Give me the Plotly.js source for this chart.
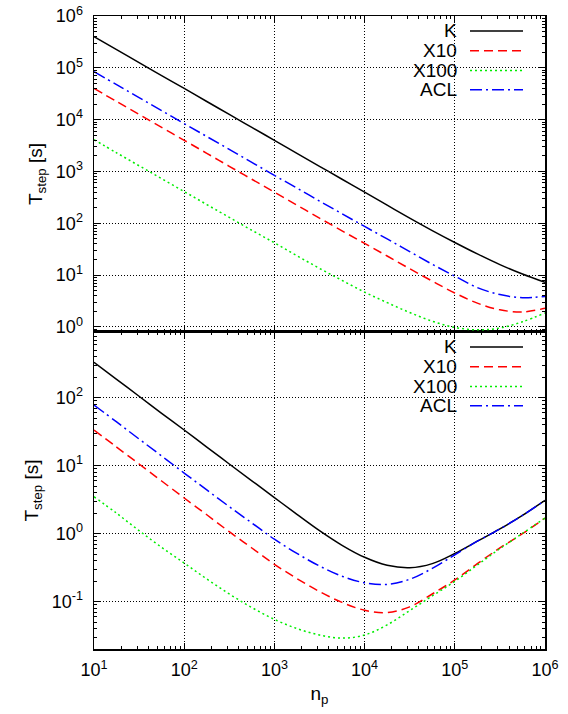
<!DOCTYPE html>
<html><head><meta charset="utf-8">
<script src="https://cdn.plot.ly/plotly-3.0.1.min.js"></script>
<style>html,body{margin:0;padding:0;background:#fff}</style>
</head><body><div id="chart" style="width:568px;height:714px"></div>
<script>
// ---- data ----
const np = [10, 17.8, 31.6, 56.2, 100, 178, 316, 562, 1000, 1778, 3162, 5623, 10000, 17783, 31623, 56234,
            100000, 177828, 316228, 562341, 1000000];
const seriesNames = ["K", "X10", "X100", "ACL"];

const topK    = [400000, 224000, 126000, 70800, 40000, 22400, 12600, 7080, 4000, 2240, 1260, 708, 400, 224, 126, 72.4, 42.7, 25.7, 16.0, 10.5, 7.24];
const topX10  = [40000, 22400, 12600, 7080, 4000, 2240, 1260, 708, 400, 224, 126, 71.6, 41, 23.4, 13.3, 7.67, 4.52, 2.88, 2.14, 1.95, 2.29];
const topX100 = [4100, 2290, 1290, 725, 410, 230, 130, 73.5, 42, 23.7, 13.5, 7.9, 4.7, 2.95, 1.9, 1.29, 0.98, 0.88, 0.955, 1.26, 1.86];
const topACL  = [84000, 47300, 26600, 15000, 8400, 4730, 2660, 1500, 841, 479, 269, 153, 87, 50, 28.5, 16.2, 9.55, 5.75, 4.22, 3.67, 3.89];

const botK    = [331, 186, 105, 59, 33.5, 18.8, 10.6, 6.0, 3.4, 1.93, 1.11, 0.676, 0.45, 0.343, 0.316, 0.363, 0.513, 0.776, 1.175, 1.86, 3.09];
const botX10  = [33.5, 18.8, 10.6, 5.96, 3.35, 1.9, 1.07, 0.617, 0.355, 0.219, 0.141, 0.0977, 0.075, 0.0692, 0.0841, 0.130, 0.209, 0.363, 0.617, 1.0, 1.7];
const botX100 = [3.5, 2.0, 1.11, 0.63, 0.37, 0.216, 0.130, 0.0822, 0.055, 0.0403, 0.0324, 0.0292, 0.0324, 0.0457, 0.0741, 0.1216, 0.1995, 0.347, 0.603, 1.01, 1.7];
const botACL  = [78, 44, 24.7, 13.9, 7.8, 4.4, 2.5, 1.44, 0.83, 0.513, 0.335, 0.237, 0.19, 0.18, 0.214, 0.309, 0.49, 0.776, 1.175, 1.86, 3.09];

const xTickExp    = [1, 2, 3, 4, 5, 6];
const yTopTickExp = [0, 1, 2, 3, 4, 5, 6];
const yBotTickExp = [-1, 0, 1, 2];
const xTitle = "n<sub>p</sub>";
const yTitle = "T<sub>step</sub> [s]";

// ---- styles ----
const FONT = "Liberation Sans, Arial, Helvetica, sans-serif";
const styles = {
  K:    {color: "#000000", dash: "solid"},
  X10:  {color: "#ff0000", dash: "9px,5px"},
  X100: {color: "#00ee00", dash: "2px,3px"},
  ACL:  {color: "#0000ff", dash: "12px,4px,2px,4px"}
};
const LW = 1.5;

const topData = {K: topK, X10: topX10, X100: topX100, ACL: topACL};
const botData = {K: botK, X10: botX10, X100: botX100, ACL: botACL};

const traces = [];
seriesNames.forEach(n => {
  traces.push({x: np, y: topData[n], xaxis: "x2", yaxis: "y2", mode: "lines", name: n, showlegend: false,
    line: {color: styles[n].color, dash: styles[n].dash, width: LW, shape: "spline", smoothing: 1}});
  traces.push({x: np, y: botData[n], xaxis: "x", yaxis: "y", mode: "lines", name: n, showlegend: false,
    line: {color: styles[n].color, dash: styles[n].dash, width: LW, shape: "spline", smoothing: 1}});
});

function ticks(exps) {
  return {vals: exps.map(e => Math.pow(10, e)), text: exps.map(e => "10<sup>" + e + "</sup>")};
}
function minorVals(e0, e1) {
  const v = [];
  for (let e = e0; e <= e1; e++) for (let m = 2; m <= 9; m++) v.push(m * Math.pow(10, e));
  return v;
}
function axis(extra) {
  return Object.assign({
    type: "log", showline: true, linecolor: "black", linewidth: 1.5, mirror: "allticks",
    ticks: "inside", ticklen: 6, tickwidth: 1, tickcolor: "black",
    showgrid: true, gridcolor: "#000000", gridwidth: 1, griddash: "1px,2px",
    zeroline: false, tickmode: "array", tickfont: {family: FONT, size: 18, color: "black"}
  }, extra);
}
const xt = ticks(xTickExp), yt2 = ticks(yTopTickExp), yt1 = ticks(yBotTickExp);
const minorCfg = (e0, e1) => ({ticks: "inside", ticklen: 3, tickwidth: 1, tickcolor: "black", tickmode: "array", tickvals: minorVals(e0, e1), showgrid: false});

const split = 0.5008;
const layout = {
  width: 568, height: 714,
  margin: {l: 94, r: 23, t: 16, b: 65},
  paper_bgcolor: "white", plot_bgcolor: "white",
  font: {family: FONT, color: "black"},
  showlegend: false,
  xaxis: axis({anchor: "y", range: [1, 6], tickvals: xt.vals, ticktext: xt.text, minor: minorCfg(1, 5),
    ticklabelstandoff: 4,
    title: {text: xTitle, font: {family: FONT, size: 19}, standoff: 7}}),
  xaxis2: axis({anchor: "y2", range: [1, 6], matches: "x", tickvals: xt.vals, ticktext: xt.text, showticklabels: false, minor: minorCfg(1, 5)}),
  yaxis: axis({domain: [0, split], anchor: "x", range: [-1.695, 2.966], tickvals: yt1.vals, ticktext: yt1.text, minor: minorCfg(-2, 2),
    ticklabelstandoff: 6,
    title: {text: yTitle, font: {family: FONT, size: 19}, standoff: 8}}),
  yaxis2: axis({domain: [split, 1], anchor: "x2", range: [-0.097, 6], tickvals: yt2.vals, ticktext: yt2.text, minor: minorCfg(-1, 5),
    ticklabelstandoff: 6,
    title: {text: yTitle, font: {family: FONT, size: 19}, standoff: 8}}),
  shapes: [], annotations: []
};

// opaque key boxes and key entries, as in the reference
const rowOffsets = [15, 34.7, 54.5, 73.8]; // px below panel top
const panels = [{yref: "y2 domain", h: 316}, {yref: "y domain", h: 317}];
const plotW = 568 - 94 - 23;
const px = v => (v - 94) / plotW;
panels.forEach(p => {
  layout.shapes.push({type: "rect", xref: "paper", yref: p.yref, x0: px(412), x1: px(533), y0: 1 - 83 / p.h, y1: 1 - 2 / p.h,
    fillcolor: "white", line: {width: 0}, layer: "between"});
  seriesNames.forEach((n, i) => {
    const yy = 1 - rowOffsets[i] / p.h;
    layout.annotations.push({xref: "paper", yref: p.yref, x: px(459), y: yy, text: n, showarrow: false,
      xanchor: "right", yanchor: "middle", font: {family: FONT, size: 19, color: "black"}});
    layout.shapes.push({type: "line", xref: "paper", yref: p.yref, x0: px(470), x1: px(523), y0: yy, y1: yy,
      line: {color: styles[n].color, dash: styles[n].dash, width: LW}});
  });
});

Plotly.newPlot("chart", traces, layout, {displayModeBar: false, staticPlot: true});
</script></body></html>
